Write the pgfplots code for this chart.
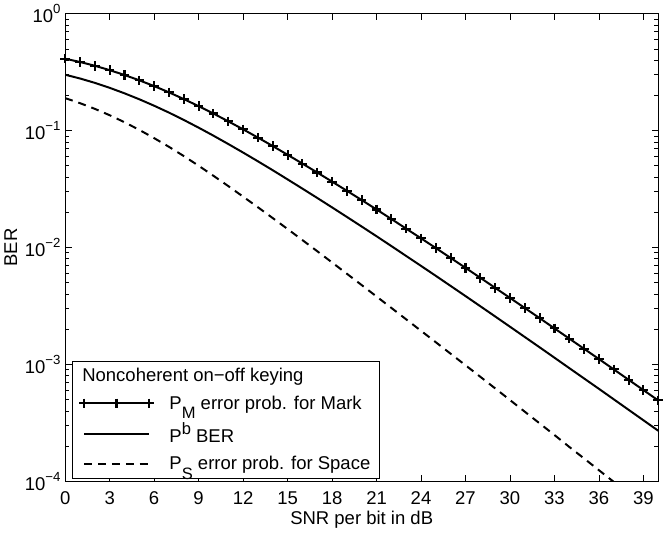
\documentclass[border=0pt]{standalone}
\usepackage{fontspec}
\setmainfont{Liberation Sans}
\usepackage{pgfplots}
\pgfplotsset{compat=1.18}
\usetikzlibrary{plotmarks}

% MATLAB-like raised / lowered indices
\newcommand\tsup[1]{\raisebox{0.5em}{\fontsize{10}{10}\selectfont #1}}
\newcommand\lsub[1]{\raisebox{-0.5em}{\fontsize{12.5}{12.5}\selectfont #1}}
\newcommand\lsup[1]{\raisebox{0.42em}{\fontsize{12.5}{12.5}\selectfont #1}}

\pgfplotsset{
  longleg/.style={legend image code/.code={%
    \draw[##1] plot coordinates {(0pt,0pt) (24.5pt,0pt) (49pt,0pt)};}},
}

\begin{document}
\begin{tikzpicture}
\begin{axis}[
  scale only axis, width=449pt, height=354pt,
  font=\fontsize{14}{17}\selectfont,
  tick label style={font=\fontsize{14}{17}\selectfont},
  /pgf/number format/assume math mode=true,
  ymode=log, xmin=0, xmax=40, ymin=1e-4, ymax=1,
  xtick={0,3,...,39},
  ytick={1e-4,1e-3,1e-2,1e-1,1},
  yticklabels={10\tsup{−4},10\tsup{−3},10\tsup{−2},10\tsup{−1},10\tsup{0}},
  minor ytick={2e-4,3e-4,4e-4,5e-4,6e-4,7e-4,8e-4,9e-4,
               2e-3,3e-3,4e-3,5e-3,6e-3,7e-3,8e-3,9e-3,
               2e-2,3e-2,4e-2,5e-2,6e-2,7e-2,8e-2,9e-2,
               2e-1,3e-1,4e-1,5e-1,6e-1,7e-1,8e-1,9e-1},
  major tick length=5pt, minor tick length=3pt,
  axis line style={line width=1pt}, tick style={line width=0.6pt,black},
  xticklabel style={yshift=-4pt},
  xlabel={SNR per bit in dB}, ylabel={BER},
  xlabel style={yshift=2pt}, ylabel style={yshift=-1pt},
  legend cell align=left,
  legend style={at={(0.012,0.005)}, anchor=south west, draw=black, line width=0.8pt,
    font=\fontsize{14}{17}\selectfont, row sep=5pt, inner xsep=5pt, inner ysep=3pt,
    /tikz/every odd column/.append style={column sep=10pt}},
]
\addlegendimage{empty legend}
\addlegendentry{\hspace{-66pt}Noncoherent on−off keying}

% P_M, error probability for Mark
\addplot[black, line width=1.5pt, mark=+, mark size=3.6pt, mark options={line width=1.6pt}, longleg] coordinates {
(0,0.4121) (1,0.3868) (2,0.3589) (3,0.3293) (4,0.2992) (5,0.2695) (6,0.2404) (7,0.2126)
(8,0.1862) (9,0.1620) (10,0.1400) (11,0.1201) (12,0.1026) (13,0.0872) (14,0.07379)
(15,0.06216) (16,0.05224) (17,0.04381) (18,0.03664) (19,0.03058) (20,0.02547)
(21,0.02116) (22,0.01754) (23,0.01450) (24,0.01199) (25,0.009897) (26,0.008147)
(27,0.006706) (28,0.005508) (29,0.004522) (30,0.003707) (31,0.003038) (32,0.002489)
(33,0.002034) (34,0.001663) (35,0.001360) (36,0.001112) (37,0.000907) (38,0.0007396)
(39,0.0006032) (40,0.000492)};
\addlegendentry{P\lsub{M} error prob. for Mark}

% P_b, bit error rate
\addplot[black, line width=1.5pt, longleg] coordinates {
(0,0.3009) (1,0.2793) (2,0.2563) (3,0.2324) (4,0.2086) (5,0.1855) (6,0.16335) (7,0.14265)
(8,0.1234) (9,0.10605) (10,0.09055) (11,0.07683) (12,0.06493) (13,0.05465) (14,0.04583)
(15,0.03828) (16,0.03191) (17,0.02656) (18,0.02205) (19,0.01827) (20,0.01512)
(21,0.01249) (22,0.01029) (23,0.008465) (24,0.006965) (25,0.005723) (26,0.004691)
(27,0.003845) (28,0.003146) (29,0.002573) (30,0.002102) (31,0.001716) (32,0.001401)
(33,0.001142) (34,0.00093) (35,0.0007584) (36,0.0006183) (37,0.000503) (38,0.0004091)
(39,0.0003329) (40,0.0002708)};
\addlegendentry{P\lsup{b} BER}

% P_S, error probability for Space
\addplot[black, line width=1.5pt, dash pattern=on 6pt off 4.5pt, longleg] coordinates {
(0,0.1897) (1,0.1718) (2,0.1536) (3,0.1355) (4,0.1180) (5,0.1015) (6,0.0863) (7,0.0727)
(8,0.0606) (9,0.0501) (10,0.0411) (11,0.03356) (12,0.02725) (13,0.0221) (14,0.01786)
(15,0.0144) (16,0.01158) (17,0.0093) (18,0.007454) (19,0.005966) (20,0.004771)
(21,0.003813) (22,0.003045) (23,0.00243) (24,0.00194) (25,0.001548) (26,0.001234)
(27,0.000984) (28,0.000784) (29,0.000624) (30,0.000496) (31,0.000394) (32,0.000313)
(33,0.000249) (34,0.000197) (35,0.0001568) (36,0.0001245) (37,0.0000989) (38,0.0000786)
(39,0.0000625) (40,0.0000496)};
\addlegendentry{P\lsub{S} error prob. for Space}
\end{axis}
\end{tikzpicture}
\end{document}
